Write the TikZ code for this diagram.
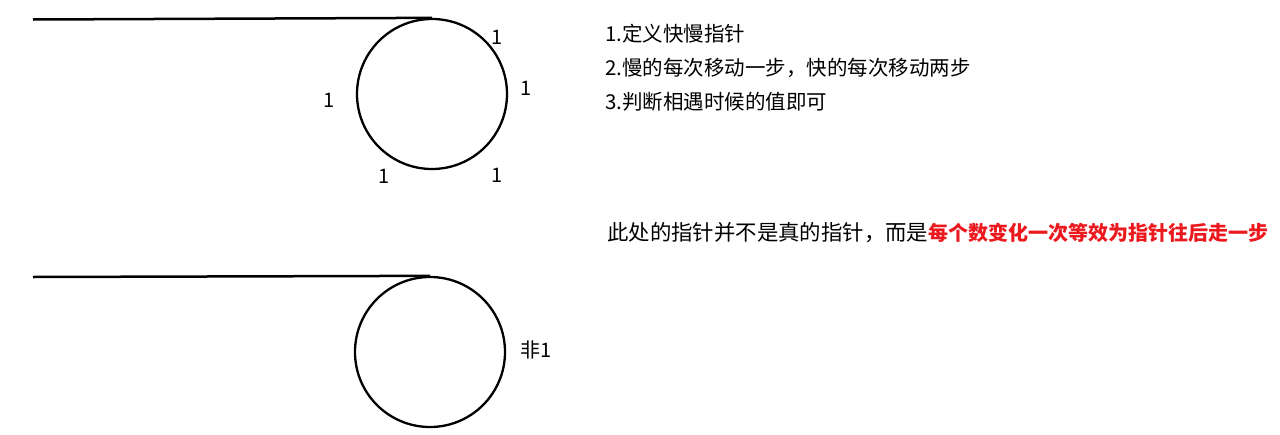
\documentclass[tikz,border=0pt]{standalone}
\usepackage{fontspec}
\setmainfont{Noto Sans CJK SC}
\definecolor{hlred}{RGB}{235,25,30}
\begin{document}
\begin{tikzpicture}[x=1pt,y=-1pt,
  ring/.style={draw=black,line width=2.3pt,circle,minimum size=150pt,inner sep=0pt},
  tail/.style={draw=black,line width=2.5pt},
  lbl/.style={font=\fontsize{20}{24}\selectfont,inner sep=0pt},
  txt/.style={font=\fontsize{20.5}{24}\selectfont,anchor=base west,inner sep=0pt}]
\useasboundingbox (0,0) rectangle (1280,434);
% top diagram
\node[ring] (c1) at (432,94) {};
\coordinate (t1) at (33,19.5);
\draw[tail] (t1) -- (c1.north);
\node[lbl] (a1) at (497,37) {1};
\node[lbl] (a2) at (526,88) {1};
\node[lbl] (a3) at (329,100) {1};
\node[lbl] (a4) at (384,176) {1};
\node[lbl] (a5) at (497,175) {1};
% bottom diagram
\node[ring] (c2) at (430,352) {};
\coordinate (t2) at (33,277);
\draw[tail] (t2) -- (c2.north);
\node[lbl] (b1) at (536,350) {非1};
% text
\node[txt] (s1) at (605,41) {1.定义快慢指针};
\node[txt] (s2) at (605,75.5) {2.慢的每次移动一步，快的每次移动两步};
\node[txt] (s3) at (605,109) {3.判断相遇时候的值即可};
\node[txt,font=\fontsize{21.4}{24}\selectfont] (r1) at (607,240) {此处的指针并不是真的指针，而是\textcolor{hlred}{\fontsize{20}{24}\selectfont\bfseries 每个数变化一次等效为指针往后走一步}};
\end{tikzpicture}
\end{document}
